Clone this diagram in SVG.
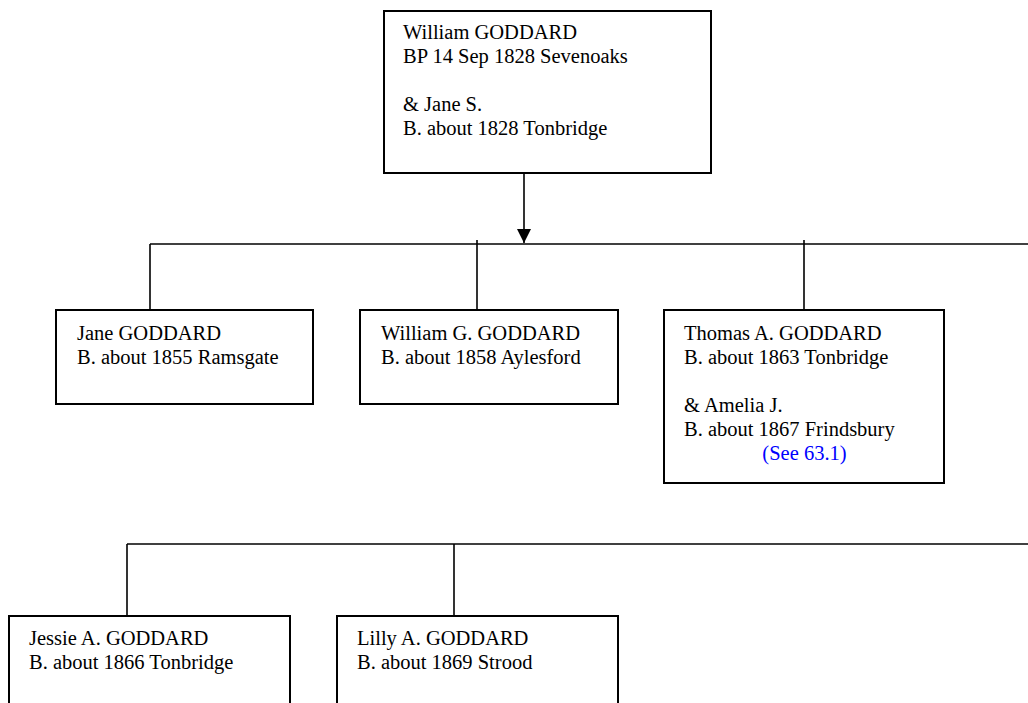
<svg xmlns="http://www.w3.org/2000/svg" width="1028" height="703" viewBox="0 0 1028 703">
<style>
.box{fill:#fff;stroke:#000;stroke-width:2}
.ln{fill:none;stroke:#000;stroke-width:1.6}
text{font-family:"Liberation Serif","Times New Roman",serif;font-size:20.5px;fill:#000}
.link{fill:#0000ff}
</style>
<defs>
<marker id="ah" viewBox="0 0 10 10" refX="10" refY="5" markerWidth="9" markerHeight="9" markerUnits="userSpaceOnUse" orient="auto">
<path d="M0,0 L10,5 L0,10 z" fill="#000"/>
</marker>
<marker id="ah2" viewBox="0 0 14 14" refX="14" refY="7" markerWidth="14" markerHeight="14" markerUnits="userSpaceOnUse" orient="auto">
<path d="M0,0 L14,7 L0,14 z" fill="#000"/>
</marker>
</defs>
<rect width="1028" height="703" fill="#fff"/>
<g id="connectors">
<line class="ln" x1="524" y1="173" x2="524" y2="243" marker-end="url(#ah2)"/>
<line class="ln" x1="150" y1="244" x2="1028" y2="244"/>
<line class="ln" x1="150" y1="244" x2="150" y2="310"/>
<line class="ln" x1="477" y1="240" x2="477" y2="310"/>
<line class="ln" x1="804" y1="240" x2="804" y2="310"/>
<line class="ln" x1="127" y1="544" x2="1028" y2="544"/>
<line class="ln" x1="127" y1="544" x2="127" y2="616"/>
<line class="ln" x1="454" y1="544" x2="454" y2="616"/>
</g>
<g id="william-goddard">
<rect class="box" x="384" y="11" width="327" height="162"/>
<text x="403" y="39">William GODDARD</text>
<text x="403" y="63">BP 14 Sep 1828 Sevenoaks</text>
<text x="403" y="111">&amp; Jane S.</text>
<text x="403" y="135">B. about 1828 Tonbridge</text>
</g>
<g id="jane-goddard">
<rect class="box" x="56" y="310" width="257" height="94"/>
<text x="77" y="340">Jane GODDARD</text>
<text x="77" y="364">B. about 1855 Ramsgate</text>
</g>
<g id="william-g-goddard">
<rect class="box" x="360" y="310" width="258" height="94"/>
<text x="381" y="340">William G. GODDARD</text>
<text x="381" y="364">B. about 1858 Aylesford</text>
</g>
<g id="thomas-a-goddard">
<rect class="box" x="664" y="310" width="280" height="173"/>
<text x="684" y="340">Thomas A. GODDARD</text>
<text x="684" y="364">B. about 1863 Tonbridge</text>
<text x="684" y="412">&amp; Amelia J.</text>
<text x="684" y="436">B. about 1867 Frindsbury</text>
<text class="link" x="804.5" y="460" text-anchor="middle">(See 63.1)</text>
</g>
<g id="jessie-a-goddard">
<rect class="box" x="9" y="616" width="281" height="100"/>
<text x="29" y="645">Jessie A. GODDARD</text>
<text x="29" y="669">B. about 1866 Tonbridge</text>
</g>
<g id="lilly-a-goddard">
<rect class="box" x="337" y="616" width="281" height="100"/>
<text x="357" y="645">Lilly A. GODDARD</text>
<text x="357" y="669">B. about 1869 Strood</text>
</g>
</svg>
